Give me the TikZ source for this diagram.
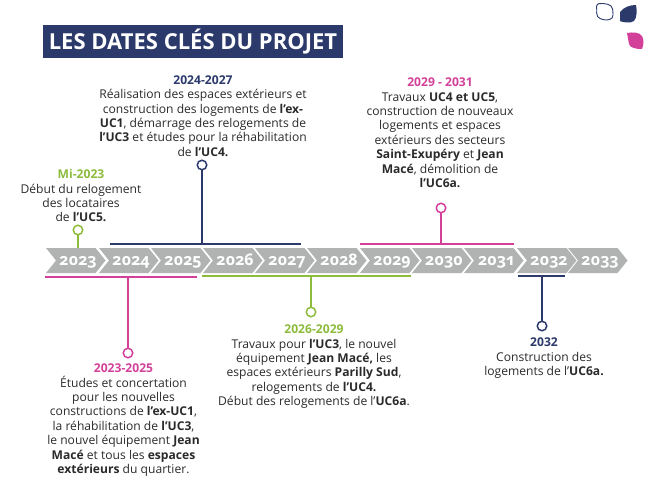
\documentclass[tikz,border=0pt]{standalone}
\usepackage{fontspec}
\setmainfont{Open Sans}
\definecolor{navyc}{HTML}{2B3A6B}
\definecolor{pinkc}{HTML}{D2409A}
\definecolor{greenc}{HTML}{8DBB3C}
\definecolor{greyc}{HTML}{B1B3B3}
\definecolor{textc}{HTML}{2A2A2A}
\tikzset{
  every node/.style={inner sep=0pt,outer sep=0pt},
  dateline/.style={line width=1.5pt},
  pin/.style={circle,draw,fill=white,line width=1.5pt,minimum size=9.5pt},
  para/.style={align=center,font=\fontsize{12.1}{14.4}\selectfont,text=textc},
  year/.style={anchor=base,font=\fontsize{16}{16}\selectfont\bfseries\addfontfeatures{Numbers=OldStyle},text=white},
  leaf/.style={line width=0.9pt,rounded corners=3pt}
}
\newcommand{\chev}[2]{%
  \fill[greyc] (#1,248) -- (#1+49.5,248) -- (#1+59.5,260.5) -- (#1+49.5,273) -- (#1,273) -- (#1+10,260.5) -- cycle;
  \node[year] at (#1+32,265) {#2};}
\begin{document}
\begin{tikzpicture}[x=1pt,y=-1pt]
\useasboundingbox (0,0) rectangle (650,497);
% title
\node[fill=navyc,text=white,minimum width=300pt,minimum height=33pt,font=\fontsize{22}{24}\selectfont\bfseries] (title) at (193,41.5) {LES DATES CLÉS DU PROJET};
% leaves
\draw[navyc,leaf] (596,4) .. controls (604,3) and (612,4) .. (613,12) .. controls (613,15) and (612,18) .. (610,20) .. controls (604,20) and (596,19) .. (597,10) -- cycle;
\fill[navyc] (620,12) .. controls (624,7) and (630,5) .. (636,5) .. controls (637,10) and (637,18) .. (634,21) .. controls (630,24) and (622,22) .. (620,21) -- cycle;
\fill[pinkc] (627,33) .. controls (633,32) and (639,32) .. (642,36) .. controls (644,40) and (644,44) .. (642,49) .. controls (636,49) and (630,48) .. (629,44) -- cycle;
% chevrons
\chev{46}{2023}\chev{99}{2024}\chev{151}{2025}\chev{203}{2026}\chev{255}{2027}\chev{307}{2028}
\chev{360}{2029}\chev{412}{2030}\chev{464}{2031}\chev{517}{2032}\chev{568}{2033}
% brackets and pins
\node[pin,draw=greenc] (p1) at (78,230) {};
\coordinate (b1) at (78,248);
\draw[dateline,greenc] (p1) -- (b1);

\node[pin,draw=navyc] (p2) at (202,165) {};
\coordinate (b2) at (202,244);
\draw[dateline,navyc] (p2) -- (b2);
\coordinate (b2l) at (110,244); \coordinate (b2r) at (301,244);
\draw[dateline,navyc] (b2l) -- (b2r);

\node[pin,draw=pinkc] (p3) at (441,208) {};
\coordinate (b3) at (441,244);
\draw[dateline,pinkc] (p3) -- (b3);
\coordinate (b3l) at (360,244); \coordinate (b3r) at (514,244);
\draw[dateline,pinkc] (b3l) -- (b3r);

\node[pin,draw=pinkc] (p4) at (128,353) {};
\coordinate (b4) at (128,277);
\draw[dateline,pinkc] (p4) -- (b4);
\coordinate (b4l) at (45,277); \coordinate (b4r) at (197,277);
\draw[dateline,pinkc] (b4l) -- (b4r);

\node[pin,draw=greenc] (p5) at (311,312) {};
\coordinate (b5) at (311,276);
\draw[dateline,greenc] (p5) -- (b5);
\coordinate (b5l) at (202,276); \coordinate (b5r) at (411,276);
\draw[dateline,greenc] (b5l) -- (b5r);

\node[pin,draw=navyc] (p6) at (542,326) {};
\coordinate (b6) at (542,276);
\draw[dateline,navyc] (p6) -- (b6);
\coordinate (b6l) at (518,276); \coordinate (b6r) at (565,276);
\draw[dateline,navyc] (b6l) -- (b6r);
% texts
\node[para,anchor=north] (t1) at (81,169.5) {\textcolor{greenc}{\textbf{Mi-2023}}\\Début du relogement\\des locataires\\de \textbf{l’UC5.}};
\node[para,anchor=north] (t2) at (203,75.5) {\textcolor{navyc}{\textbf{2024-2027}}\\Réalisation des espaces extérieurs et\\construction des logements de \textbf{l’ex-}\\\textbf{UC1}, démarrage des relogements de\\\textbf{l’UC3} et études pour la réhabilitation\\de \textbf{l’UC4.}};
\node[para,anchor=north] (t3) at (440,78) {\textcolor{pinkc}{\textbf{2029 - 2031}}\\Travaux \textbf{UC4 et UC5},\\construction de nouveaux\\logements et espaces\\extérieurs des secteurs\\\textbf{Saint-Exupéry} et \textbf{Jean}\\\textbf{Macé}, démolition de\\\textbf{l’UC6a.}};
\node[para,anchor=north] (t4) at (123.5,364) {\textcolor{pinkc}{\textbf{2023-2025}}\\Études et concertation\\pour les nouvelles\\constructions de \textbf{l’ex-UC1},\\la réhabilitation de \textbf{l’UC3},\\le nouvel équipement \textbf{Jean}\\\textbf{Macé} et tous les \textbf{espaces}\\\textbf{extérieurs} du quartier.};
\node[para,anchor=north] (t5) at (314,325) {\textcolor{greenc}{\textbf{2026-2029}}\\Travaux pour \textbf{l’UC3}, le nouvel\\équipement \textbf{Jean Macé,} les\\espaces extérieurs \textbf{Parilly Sud},\\relogements de \textbf{l’UC4.}\\Début des relogements de l’\textbf{UC6a}.};
\node[para,anchor=north] (t6) at (544,338) {\textcolor{navyc}{\textbf{2032}}\\Construction des\\logements de l’\textbf{UC6a.}};
\end{tikzpicture}
\end{document}
